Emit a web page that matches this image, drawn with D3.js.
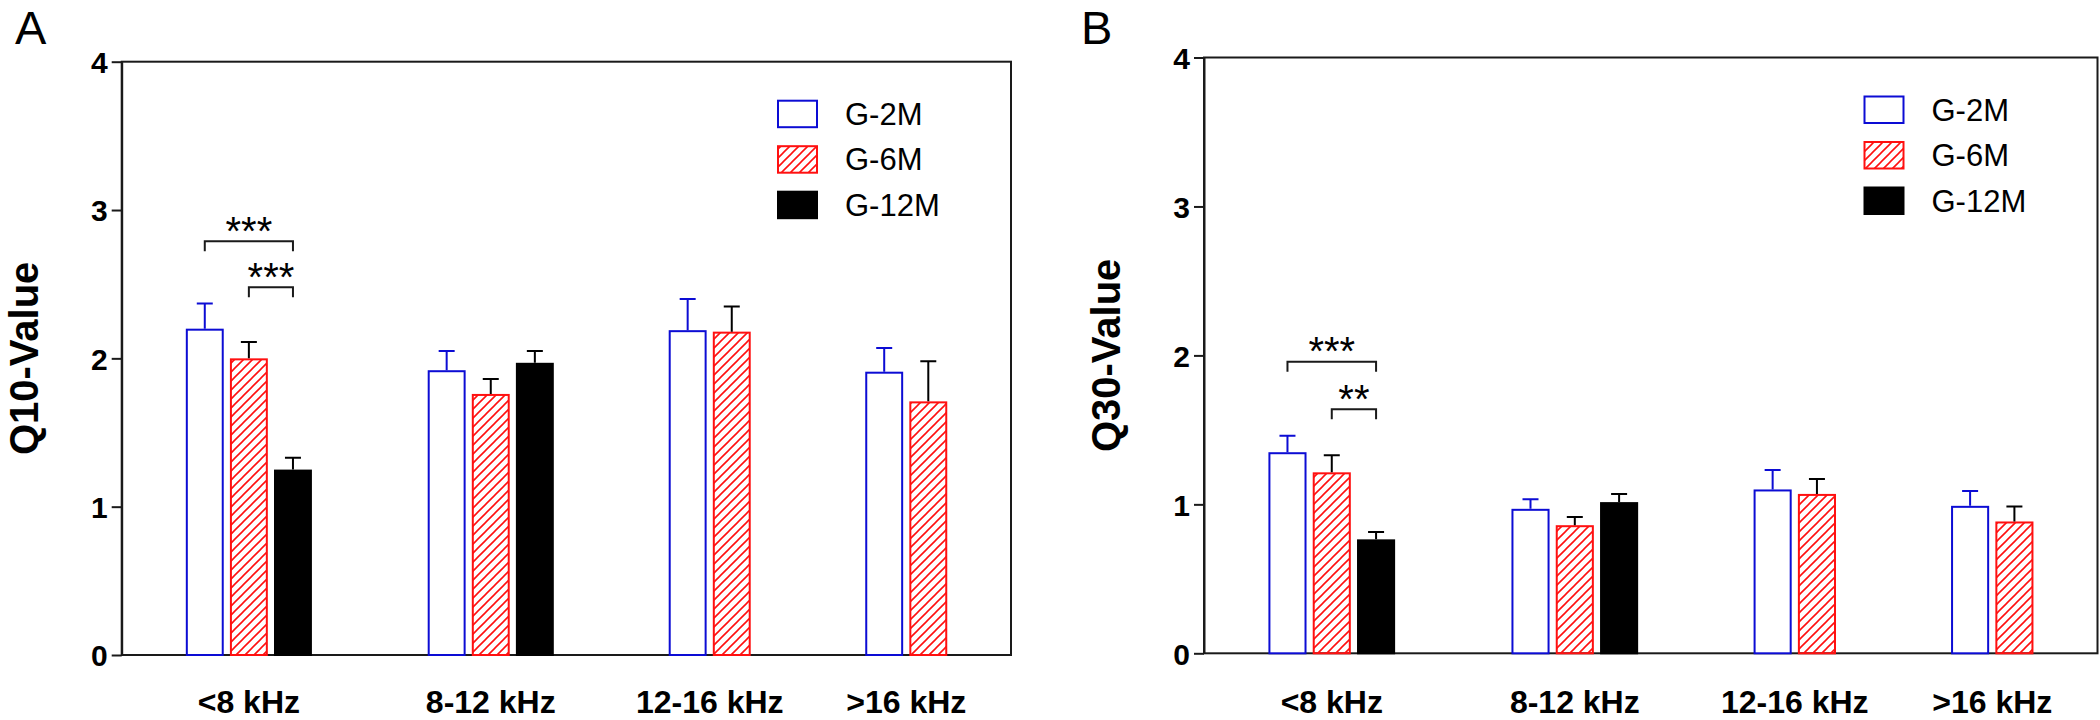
<!DOCTYPE html>
<html><head><meta charset="utf-8">
<script src="https://cdn.jsdelivr.net/npm/d3@7"></script>
<style>
body{margin:0;background:#fff}
svg text{font-family:'Liberation Sans',Arial,Helvetica,sans-serif}
</style>
</head><body>
<svg id="chart" width="2100" height="720"></svg>
<script>
// ---------- data ----------
const categories = ["<8 kHz", "8-12 kHz", "12-16 kHz", ">16 kHz"];
const seriesNames = ["G-2M", "G-6M", "G-12M"];
const yTicks = [0, 1, 2, 3, 4];

// Panel A : Q10-Value (mean, SEM)
const q10_G2M  = [2.20, 1.92, 2.19, 1.91];
const q10_G6M  = [2.00, 1.76, 2.18, 1.71];
const q10_G12M = [1.25, 1.97, null, null];
const q10_G2M_sem  = [0.17, 0.13, 0.21, 0.16];
const q10_G6M_sem  = [0.11, 0.10, 0.17, 0.27];
const q10_G12M_sem = [0.08, 0.08, null, null];

// Panel B : Q30-Value (mean, SEM)
const q30_G2M  = [1.35, 0.97, 1.10, 0.99];
const q30_G6M  = [1.215, 0.86, 1.07, 0.885];
const q30_G12M = [0.765, 1.015, null, null];
const q30_G2M_sem  = [0.11, 0.065, 0.13, 0.10];
const q30_G6M_sem  = [0.115, 0.055, 0.10, 0.10];
const q30_G12M_sem = [0.05, 0.055, null, null];

// significance brackets (category, from series, to series, bracket level, label)
const sigA = [
  {cat: "<8 kHz", from: "G-2M", to: "G-12M", level: 2.79, label: "***"},
  {cat: "<8 kHz", from: "G-6M", to: "G-12M", level: 2.48, label: "***"}
];
const sigB = [
  {cat: "<8 kHz", from: "G-2M", to: "G-12M", level: 1.958, label: "***"},
  {cat: "<8 kHz", from: "G-6M", to: "G-12M", level: 1.639, label: "**"}
];

// ---------- layout ----------
const panels = [
  {letter: "A", yLabel: "Q10-Value",
   vals: [q10_G2M, q10_G6M, q10_G12M], sems: [q10_G2M_sem, q10_G6M_sem, q10_G12M_sem], sig: sigA,
   x0: 121.7, x1: 1011, y0: 61.7, y1: 655, lx: 15, ly: 44},
  {letter: "B", yLabel: "Q30-Value",
   vals: [q30_G2M, q30_G6M, q30_G12M], sems: [q30_G2M_sem, q30_G6M_sem, q30_G12M_sem], sig: sigB,
   x0: 1204, x1: 2097.5, y0: 57.5, y1: 653.3, lx: 1081, ly: 44}
];
const groupFrac = [0.143, 0.415, 0.686, 0.907];
const BLUE = "#0c0cd4", RED = "#ff1010", DARK = "#1a1a1a";

const svg = d3.select("#chart");
const defs = svg.append("defs");
const pat = defs.append("pattern").attr("id", "hatch")
  .attr("patternUnits", "userSpaceOnUse").attr("width", 9).attr("height", 9);
pat.append("path").attr("d", "M-2,2 L2,-2 M0,9 L9,0 M7,11 L11,7")
  .attr("stroke", RED).attr("stroke-width", 1.6).attr("fill", "none");

const seriesStyle = {
  "G-2M":  {fill: "#fff", stroke: BLUE, err: BLUE},
  "G-6M":  {fill: "url(#hatch)", stroke: RED, err: "#000"},
  "G-12M": {fill: "#000", stroke: "#000", err: "#000"}
};

panels.forEach(p => {
  const g = svg.append("g");
  const W = p.x1 - p.x0;
  const y = d3.scaleLinear().domain([0, 4]).range([p.y1, p.y0]);
  const xc = d3.scaleOrdinal().domain(categories).range(groupFrac.map(f => p.x0 + f * W));
  const xs = d3.scaleBand().domain(seriesNames).range([-0.0709 * W, 0.0709 * W]).paddingInner(0.14);
  const bw = xs.bandwidth();

  // frame
  g.append("rect").attr("x", p.x0).attr("y", p.y0).attr("width", W).attr("height", p.y1 - p.y0)
    .attr("fill", "none").attr("stroke", DARK).attr("stroke-width", 2);

  // y axis
  const ax = g.append("g").attr("transform", `translate(${p.x0},0)`)
    .call(d3.axisLeft(y).tickValues(yTicks).tickSize(10).tickSizeOuter(0).tickPadding(4).tickFormat(d3.format("d")));
  ax.select(".domain").attr("stroke", DARK).attr("stroke-width", 2);
  ax.selectAll(".tick line").attr("stroke", DARK).attr("stroke-width", 2);
  ax.selectAll(".tick text").attr("font-size", 30).attr("font-weight", "bold").attr("fill", "#000")
    .attr("dy", "0.36em").style("font-family", "'Liberation Sans',Arial,sans-serif");

  // y label
  g.append("text").attr("transform", `translate(${p.x0 - 84},${(p.y0 + p.y1) / 2}) rotate(-90)`)
    .attr("text-anchor", "middle").attr("font-size", 40).attr("font-weight", "bold").text(p.yLabel);

  // panel letter
  g.append("text").attr("x", p.lx).attr("y", p.ly).attr("font-size", 47).text(p.letter);

  // bars
  seriesNames.forEach((s, si) => {
    const st = seriesStyle[s];
    categories.forEach((c, ci) => {
      const v = p.vals[si][ci];
      if (v == null) return;
      const bx = xc(c) + xs(s);
      g.append("rect").attr("x", bx + 1).attr("y", y(v) + 1)
        .attr("width", bw - 2).attr("height", y(0) - y(v) - 1)
        .attr("fill", st.fill).attr("stroke", st.stroke).attr("stroke-width", 2);
      const e = p.sems[si][ci];
      const cx = bx + bw / 2;
      g.append("path").attr("d", `M${cx},${y(v)} V${y(v + e)} M${cx - 8},${y(v + e)} H${cx + 8}`)
        .attr("stroke", st.err).attr("stroke-width", 2).attr("fill", "none");
    });
  });

  // category labels (centred on the bars present)
  categories.forEach((c, ci) => {
    const present = seriesNames.filter((s, si) => p.vals[si][ci] != null);
    const cx = d3.mean(present, s => xc(c) + xs(s) + bw / 2);
    g.append("text").attr("x", cx).attr("y", 713).attr("text-anchor", "middle")
      .attr("font-size", 32).attr("font-weight", "bold").text(c);
  });

  // significance brackets
  p.sig.forEach(d => {
    const xa = xc(d.cat) + xs(d.from) + bw / 2;
    const xb = xc(d.cat) + xs(d.to) + bw / 2;
    const yy = y(d.level);
    g.append("path").attr("d", `M${xa},${yy + 10} V${yy} H${xb} V${yy + 10}`)
      .attr("stroke", DARK).attr("stroke-width", 2).attr("fill", "none");
    g.append("text").attr("x", (xa + xb) / 2).attr("y", yy + 3.5).attr("text-anchor", "middle")
      .attr("font-size", 40).text(d.label);
  });

  // legend
  const lg = g.append("g");
  seriesNames.forEach((s, i) => {
    const st = seriesStyle[s];
    const lx = p.x1 - 234, ly = p.y0 + 38 + i * 45.5;
    lg.append("rect").attr("x", lx + 1).attr("y", ly + 1).attr("width", 39).attr("height", 26.5)
      .attr("fill", st.fill).attr("stroke", st.stroke).attr("stroke-width", 2);
    lg.append("text").attr("x", lx + 68).attr("y", ly + 14 + 11).attr("font-size", 31).text(s);
  });
});
</script>
</body></html>
